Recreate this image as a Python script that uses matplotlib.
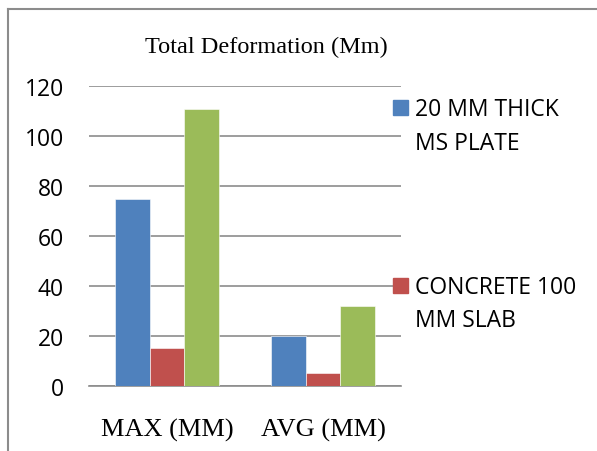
import matplotlib
matplotlib.use("Agg")
import matplotlib.pyplot as plt
from matplotlib.patches import Rectangle
from matplotlib.lines import Line2D

# --- data ---
categories = ["MAX (MM)", "AVG (MM)"]
series_names = ["20 MM THICK\nMS PLATE", "CONCRETE 100\nMM SLAB", ""]
ms_plate = [75, 20]
concrete = [15.3, 5.4]
third = [111, 32]
colors = ["#4F81BD", "#C0504D", "#9BBB59"]

W, H = 597, 452
fig = plt.figure(figsize=(W / 100, H / 100), dpi=100)
ax = fig.add_axes([89 / W, (H - 387) / H, (401 - 89) / W, 300 / H])

bw = 0.222
xs = list(range(len(categories)))
for i, vals in enumerate([ms_plate, concrete, third]):
    ax.bar([x + (i - 1) * bw for x in xs], vals, width=bw, color=colors[i],
           edgecolor="white", linewidth=0.4, zorder=3)

ax.set_xlim(-0.5, 1.5)
ax.set_ylim(0, 120)
ax.set_yticks(range(0, 121, 20))
ax.yaxis.grid(True, color="#8c8c8c", linewidth=1.2, zorder=0)
for s in ["left", "right", "top"]:
    ax.spines[s].set_visible(False)
ax.spines["bottom"].set_color("#8c8c8c")
ax.spines["bottom"].set_linewidth(1.2)
ax.tick_params(axis="y", length=0, pad=18, labelsize=16.5)
ax.tick_params(axis="x", length=0, pad=23)
for lab in ax.get_yticklabels():
    lab.set_fontfamily("Open Sans")
ax.set_xticks(xs)
ax.set_xticklabels(categories, fontfamily="Liberation Serif", fontsize=19)

fig.text(266 / W, 1 - 47 / H, "Total Deformation (Mm)", ha="center", va="center",
         fontfamily="Liberation Serif", fontsize=17.5)

# legend, drawn by hand to match the spacing in the reference
leg_y = [108.5, 286]
for i in range(2):
    y = leg_y[i]
    fig.patches.append(Rectangle((393 / W, 1 - (y + 7.5) / H), 15 / W, 15 / H,
                                 transform=fig.transFigure, color=colors[i], zorder=5))
    fig.text(415 / W, 1 - (y - 10) / H, series_names[i], ha="left", va="top",
             fontfamily="Open Sans", fontsize=16.5, linespacing=1.5)

# outer frame (left and top edges visible)
fig.lines.append(Line2D([8 / W, 8 / W], [0, 1 - 10 / H], transform=fig.transFigure,
                        color="#8c8c8c", linewidth=1.5))
fig.lines.append(Line2D([8 / W, 1], [1 - 10 / H, 1 - 10 / H], transform=fig.transFigure,
                        color="#8c8c8c", linewidth=1.5))

fig.savefig("out.png", dpi=100)
